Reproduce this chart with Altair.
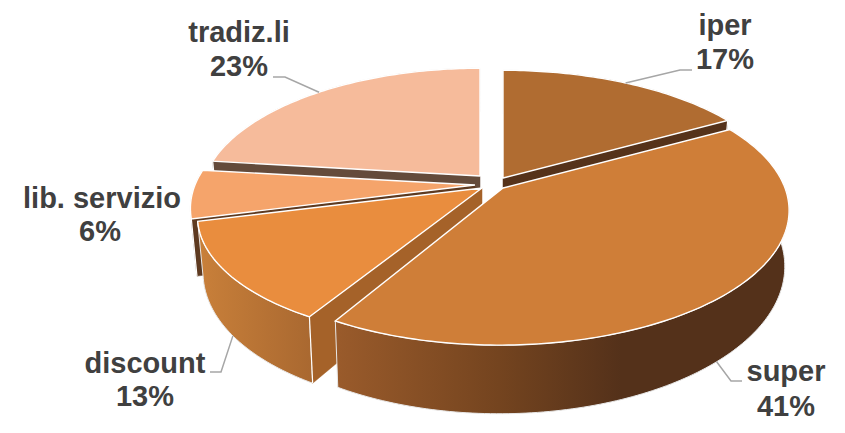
import math
import altair as alt

# Chart values (shares; labels show them rounded)
names = ["iper", "super", "discount", "lib. servizio", "tradiz.li"]
shares = [16.8, 41.4, 12.7, 6.0, 23.1]

# Label anchors in page pixels: centre x, name y, share y
label_x = [725, 786, 145, 102, 239]
name_y = [26, 372, 364, 199, 33]
share_y = [60, 407, 397, 232, 67]
share_x = [725, 786, 145, 100, 239]
elbow_a = [(692, 70), (742, 381), (210, 372), None, (273, 77)]
elbow_b = [(680, 70), (731, 381), (221, 372), None, (285, 77)]
leader_shift = [0, 2.5, 0, 0, 0]

# Perspective and slice look
PERSP = 0.179
M = 8
apex = [(503, 178), (503, 188), (482, 188), (475, 185), (480, 176)]
radius = [281, 282, 278, 280, 275]
squash = [127, 129, 125, 127, 127]
skew = [0, -3, -10, 0, 0]
bottom_k = [0.98, 0.985, 0.98, 0.98, 0.98]
top_col = ["#B06C31", "#CF7E38", "#E98D3E", "#F5A46B", "#F6BB9B"]
wall_col = ["#55321A", None, "#A56229", "#5E3A20", "#644B3B"]
wall_edge = ["end", None, "start", "start", "start"]


def pt(i, deg, r=1.0, bottom=False):
    a = math.radians(deg)
    u, v = r * math.sin(a), -r * math.cos(a)
    s = 1 / (1 - PERSP * v)
    ax, ay = apex[i]
    k = bottom_k[i] if bottom else 1.0
    x = ax + radius[i] * u * s * k + skew[i] * v * s
    y = ay + squash[i] * v * s
    if bottom:
        y += 54 + 12 * v * s
    return [x - M, y - M]


def poly(coords):
    return {"type": "Feature", "properties": {},
            "geometry": {"type": "Polygon", "coordinates": [coords + [coords[0]]]}}


def arc(i, a0, a1, bottom=False):
    n = max(2, int(abs(a1 - a0)))
    return [pt(i, a0 + (a1 - a0) * j / n, bottom=bottom) for j in range(n + 1)]


def shape(feature, fill, stroke="white", width=1.4):
    return alt.Chart(alt.Data(values=[feature])).mark_geoshape(
        fill=fill, stroke=stroke, strokeWidth=width, strokeJoin="miter")


def grad(stops):
    return alt.Gradient(gradient="linear", x1=0, x2=1, y1=0, y2=0,
                        stops=[alt.GradientStop(offset=o, color=c) for o, c in stops])


outer_fill = {
    0: "#55321A",
    1: grad([(0, "#9A5B2B"), (0.36, "#74441F"), (0.63, "#54311A"), (1, "#54311A")]),
    2: grad([(0, "#C9803A"), (1, "#A96830")]),
    3: "#5E3A20",
    4: "#644B3B",
}

total = sum(shares)
starts = []
acc = 0.0
for s in shares:
    starts.append(acc / total * 360)
    acc += s

layers = []
for i in [4, 0, 3, 2, 1]:
    a0 = starts[i]
    a1 = a0 + shares[i] / total * 360
    outer = arc(i, a0, a1) + arc(i, a1, a0, bottom=True)
    layers.append(shape(poly(outer), outer_fill[i], stroke="#E8E8E8", width=1))
    if wall_edge[i]:
        e = a0 if wall_edge[i] == "start" else a1
        wall = [pt(i, e, 0), pt(i, e), pt(i, e, bottom=True), pt(i, e, 0, bottom=True)]
        layers.append(shape(poly(wall), wall_col[i], stroke=wall_col[i], width=0.5))
        edge = {"type": "Feature", "properties": {},
                "geometry": {"type": "LineString",
                             "coordinates": [pt(i, e), pt(i, e, bottom=True)]}}
        layers.append(alt.Chart(alt.Data(values=[edge])).mark_geoshape(
            filled=False, stroke="white", strokeWidth=1.2))
    layers.append(shape(poly([pt(i, a0, 0)] + arc(i, a0, a1)), top_col[i]))

# Leader lines, from the rim at each slice's mid-angle to its label
for i in range(len(names)):
    if elbow_a[i] is None:
        continue
    mid = starts[i] + shares[i] / total * 180 + leader_shift[i]
    end = pt(i, mid, bottom=i in (1, 2))
    line = [[elbow_a[i][0] - M, elbow_a[i][1] - M],
            [elbow_b[i][0] - M, elbow_b[i][1] - M], end]
    feat = {"type": "Feature", "properties": {},
            "geometry": {"type": "LineString", "coordinates": line}}
    layers.append(alt.Chart(alt.Data(values=[feat])).mark_geoshape(
        filled=False, stroke="#A6A6A6", strokeWidth=1.5))

rows = []
for i, n in enumerate(names):
    rows.append({"lon": label_x[i] - M, "lat": name_y[i] - M, "t": n})
    rows.append({"lon": share_x[i] - M, "lat": share_y[i] - M, "t": f"{round(shares[i])}%"})

text = alt.Chart(alt.Data(values=rows)).mark_text(
    font="Liberation Sans", fontWeight="bold", fontSize=29, color="#404040",
    align="center", baseline="middle"
).encode(longitude="lon:Q", latitude="lat:Q", text="t:N")

chart = alt.layer(*layers, text).project(
    type="identity", scale=1, translate=[0, 0]
).properties(
    width=829, height=417, padding=0, autosize=alt.AutoSizeParams(type="none"),
    background="white"
).configure_view(stroke=None)

chart.save("out.html", embed_options={"renderer": "svg", "actions": False})
